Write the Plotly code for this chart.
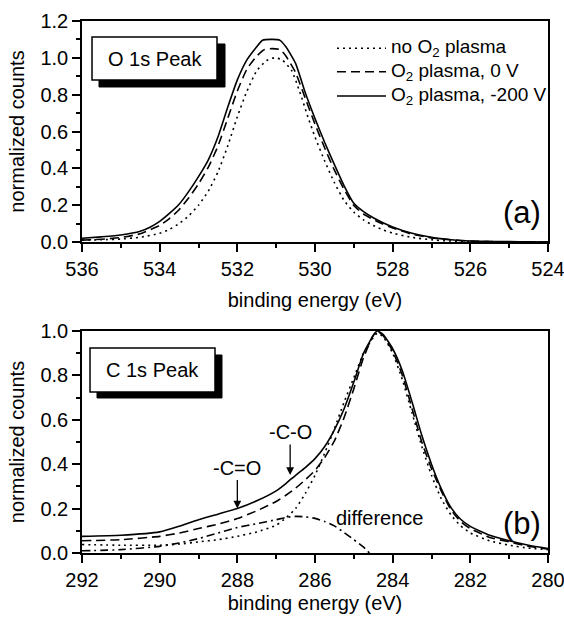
import plotly.graph_objects as go

# ---------------- data: O 1s panel (a) ----------------
o1s_e_solid = [536.0, 535.5, 535.0, 534.5, 534.25, 534.0, 533.75, 533.5, 533.25, 533.0, 532.75, 532.5,
               532.25, 532.0, 531.75, 531.5, 531.35, 531.1, 530.9, 530.75, 530.5, 530.25, 530.0, 529.75,
               529.5, 529.25, 529.0, 528.75, 528.5, 528.25, 528.0, 527.5, 527.0, 526.5, 526.0, 525.5,
               525.0, 524.5, 524.0]
o1s_plasma_200v = [0.020, 0.028, 0.038, 0.058, 0.080, 0.112, 0.155, 0.205, 0.275, 0.355, 0.445, 0.570,
                   0.730, 0.880, 0.990, 1.060, 1.095, 1.100, 1.095, 1.060, 0.970, 0.810, 0.670, 0.540,
                   0.420, 0.305, 0.210, 0.165, 0.132, 0.105, 0.082, 0.047, 0.025, 0.012, 0.005, 0.003,
                   0.002, 0.001, 0.000]

o1s_e_dash = [536.0, 535.5, 535.0, 534.5, 534.0, 533.75, 533.5, 533.25, 533.0, 532.75, 532.5, 532.25,
              532.0, 531.75, 531.5, 531.3, 531.1, 530.9, 530.75, 530.5, 530.25, 530.0, 529.75, 529.5,
              529.25, 529.0, 528.75, 528.5, 528.25, 528.0, 527.5, 527.0, 526.5, 526.0, 525.5, 525.0,
              524.5, 524.0]
o1s_plasma_0v = [0.010, 0.015, 0.024, 0.045, 0.090, 0.127, 0.175, 0.240, 0.315, 0.405, 0.520, 0.670,
                 0.820, 0.940, 1.010, 1.045, 1.050, 1.045, 1.010, 0.920, 0.780, 0.640, 0.510, 0.390,
                 0.285, 0.198, 0.152, 0.122, 0.097, 0.076, 0.042, 0.022, 0.012, 0.005, 0.002, 0.001,
                 0.000, 0.000]

o1s_e_dot = [536.0, 535.5, 535.0, 534.5, 534.0, 533.75, 533.5, 533.25, 533.0, 532.75, 532.5, 532.25,
             532.0, 531.75, 531.5, 531.25, 531.05, 530.85, 530.6, 530.4, 530.2, 530.0, 529.75, 529.5,
             529.25, 529.0, 528.75, 528.5, 528.25, 528.0, 527.5, 527.0, 526.5, 526.0, 525.0, 524.0]
o1s_no_plasma = [0.010, 0.012, 0.016, 0.026, 0.047, 0.068, 0.100, 0.142, 0.200, 0.275, 0.380, 0.520,
                 0.680, 0.820, 0.930, 0.985, 1.000, 0.990, 0.930, 0.820, 0.690, 0.570, 0.440, 0.322,
                 0.225, 0.162, 0.120, 0.090, 0.066, 0.048, 0.025, 0.012, 0.005, 0.002, 0.000, 0.000]

# ---------------- data: C 1s panel (b) ----------------
c1s_e = [292.0, 291.0, 290.0, 289.5, 289.0, 288.5, 288.0, 287.5, 287.0, 286.75, 286.5, 286.25,
         286.0, 285.75, 285.5, 285.25, 285.0, 284.75, 284.5, 284.4, 284.25, 284.0, 283.75, 283.5,
         283.25, 283.0, 282.75, 282.5, 282.25, 282.0, 281.5, 281.0, 280.5, 280.0]
c1s_plasma_200v = [0.075, 0.080, 0.095, 0.120, 0.150, 0.175, 0.200, 0.235, 0.280, 0.313, 0.350, 0.385,
                   0.425, 0.480, 0.555, 0.650, 0.770, 0.900, 0.980, 1.000, 0.985, 0.920, 0.820, 0.680,
                   0.530, 0.400, 0.290, 0.205, 0.152, 0.120, 0.080, 0.055, 0.035, 0.020]
c1s_plasma_0v = [0.055, 0.060, 0.075, 0.090, 0.110, 0.130, 0.155, 0.190, 0.232, 0.260, 0.292, 0.330,
                 0.372, 0.430, 0.505, 0.610, 0.740, 0.880, 0.980, 1.000, 0.980, 0.910, 0.800, 0.650,
                 0.500, 0.380, 0.280, 0.195, 0.142, 0.110, 0.070, 0.050, 0.030, 0.018]
c1s_no_plasma = [0.038, 0.035, 0.035, 0.040, 0.050, 0.060, 0.075, 0.095, 0.125, 0.158, 0.200, 0.268,
                 0.350, 0.450, 0.560, 0.680, 0.790, 0.900, 0.970, 0.990, 0.975, 0.900, 0.780, 0.630,
                 0.480, 0.350, 0.245, 0.172, 0.122, 0.090, 0.055, 0.035, 0.022, 0.015]

diff_e = [292.0, 291.0, 290.0, 289.5, 289.0, 288.5, 288.0, 287.5, 287.0, 286.75, 286.5, 286.25,
          286.0, 285.75, 285.5, 285.25, 285.0, 284.75, 284.6]
diff_values = [0.010, 0.015, 0.030, 0.045, 0.065, 0.090, 0.115, 0.132, 0.150, 0.160, 0.165, 0.163,
               0.156, 0.142, 0.122, 0.092, 0.060, 0.026, 0.000]

legend_labels = ["no O<sub>2</sub> plasma", "O<sub>2</sub> plasma, 0 V", "O<sub>2</sub> plasma, -200 V"]

# ---------------- styling ----------------
FONT = "Liberation Sans, Arial, Helvetica, sans-serif"
FS = 20
LW = 1.6
DOT = "2px,4px"
DASH = "9px,5px"
DASHDOT = "8px,4px,2px,4px"

fig = go.Figure()

def add(x, y, dash, xa, ya):
    fig.add_trace(go.Scatter(x=x, y=y, mode="lines", xaxis=xa, yaxis=ya, showlegend=False,
                             line=dict(color="black", width=LW, dash=dash, shape="spline", smoothing=0.5),
                             hoverinfo="skip"))

add(o1s_e_dot, o1s_no_plasma, DOT, "x", "y")
add(o1s_e_dash, o1s_plasma_0v, DASH, "x", "y")
add(o1s_e_solid, o1s_plasma_200v, "solid", "x", "y")

add(c1s_e, c1s_no_plasma, DOT, "x2", "y2")
add(c1s_e, c1s_plasma_0v, DASH, "x2", "y2")
add(c1s_e, c1s_plasma_200v, "solid", "x2", "y2")
add(diff_e, diff_values, DASHDOT, "x2", "y2")

TOP_DOM = [0.5846, 1.0]
BOT_DOM = [0.0, 0.4173]

tickfont = dict(family=FONT, size=FS, color="black")
titlefont = dict(family=FONT, size=FS, color="black")

def xax(rng, anchor, standoff):
    return dict(range=rng, anchor=anchor, domain=[0, 1], tick0=280, dtick=2,
                ticks="outside", ticklen=8, tickwidth=1.5, tickcolor="black",
                minor=dict(dtick=1, ticks="outside", ticklen=4, tickwidth=1.5, tickcolor="black"),
                showline=True, linewidth=1.5, linecolor="black", mirror=True,
                showgrid=False, zeroline=False, tickfont=tickfont, ticklabeloverflow="allow",
                automargin=False,
                title=dict(text="binding energy (eV)", font=titlefont, standoff=standoff))

def xax_top(rng, anchor, over):
    return dict(range=rng, anchor=anchor, overlaying=over, side="top", tick0=280, dtick=2,
                ticks="inside", ticklen=8, tickwidth=1.5, tickcolor="black",
                minor=dict(dtick=1, ticks="inside", ticklen=4, tickwidth=1.5, tickcolor="black"),
                showticklabels=False, showline=False, showgrid=False, zeroline=False,
                automargin=False)

def yax(rng, dom, anchor):
    return dict(range=rng, domain=dom, anchor=anchor, dtick=0.2, tick0=0, tickformat=".1f",
                ticks="outside", ticklen=8, tickwidth=1.5, tickcolor="black",
                minor=dict(dtick=0.1, ticks="outside", ticklen=4, tickwidth=1.5, tickcolor="black"),
                showline=True, linewidth=1.5, linecolor="black", mirror=True,
                showgrid=False, zeroline=False, tickfont=tickfont, ticklabeloverflow="allow",
                automargin=False,
                title=dict(text="normalized counts", font=titlefont, standoff=10))

def yax_right(rng, anchor, over):
    return dict(range=rng, anchor=anchor, overlaying=over, side="right", dtick=0.2, tick0=0,
                ticks="inside", ticklen=8, tickwidth=1.5, tickcolor="black",
                minor=dict(dtick=0.1, ticks="inside", ticklen=4, tickwidth=1.5, tickcolor="black"),
                showticklabels=False, showline=False, showgrid=False, zeroline=False,
                automargin=False)

fig.update_layout(
    width=564, height=623,
    margin=dict(l=82, r=16, t=21, b=70, autoexpand=False),
    paper_bgcolor="white", plot_bgcolor="white",
    font=dict(family=FONT, size=FS, color="black"),
    showlegend=False,
    xaxis=xax([536, 524], "y", 14),
    yaxis=yax([0, 1.2], TOP_DOM, "x"),
    xaxis2=xax([292, 280], "y2", 6),
    yaxis2=yax([0, 1.0], BOT_DOM, "x2"),
    xaxis3=xax_top([536, 524], "y", "x"),
    yaxis3=yax_right([0, 1.2], "x", "y"),
    xaxis4=xax_top([292, 280], "y2", "x2"),
    yaxis4=yax_right([0, 1.0], "x2", "y2"),
)

shapes = []
annotations = []

def peak_box(xd, yd, xs, ys, text, xr, yr):
    shapes.append(dict(type="rect", xref=xr, yref=yr, x0=xs[0], x1=xs[1], y0=ys[0], y1=ys[1],
                       fillcolor="black", line=dict(color="black", width=1), layer="above"))
    shapes.append(dict(type="rect", xref=xr, yref=yr, x0=xd[0], x1=xd[1], y0=yd[0], y1=yd[1],
                       fillcolor="white", line=dict(color="black", width=1.5), layer="above"))
    annotations.append(dict(xref=xr, yref=yr, x=(xd[0] + xd[1]) / 2, y=(yd[0] + yd[1]) / 2,
                            text=text, showarrow=False, font=dict(family=FONT, size=FS, color="black"),
                            xanchor="center", yanchor="middle"))

peak_box([0.0215, 0.2897], [0.733, 0.9276], [0.0365, 0.3069], [0.7014, 0.896],
         "O 1s Peak", "x domain", "y domain")
peak_box([0.0172, 0.2854], [0.7252, 0.9234], [0.0322, 0.3004], [0.6982, 0.8919],
         "C 1s Peak", "x2 domain", "y2 domain")

# manual legend (panel a)
leg_rows = [0.8765, 0.7706, 0.6606]
leg_dash = [DOT, DASH, "solid"]
for lab, yy, dsh in zip(legend_labels, leg_rows, leg_dash):
    shapes.append(dict(type="line", xref="x domain", yref="y domain", x0=0.5472, x1=0.6524,
                       y0=yy, y1=yy, line=dict(color="black", width=LW, dash=dsh)))
    annotations.append(dict(xref="x domain", yref="y domain", x=0.6588, y=yy, text=lab,
                            showarrow=False, xanchor="left", yanchor="middle",
                            font=dict(family=FONT, size=19, color="black")))

# panel labels
annotations.append(dict(xref="x domain", yref="y domain", x=0.945, y=0.135, text="(a)",
                        showarrow=False, xanchor="center", yanchor="middle",
                        font=dict(family=FONT, size=31, color="black")))
annotations.append(dict(xref="x2 domain", yref="y2 domain", x=0.945, y=0.135, text="(b)",
                        showarrow=False, xanchor="center", yanchor="middle",
                        font=dict(family=FONT, size=31, color="black")))

# panel b annotations
annotations.append(dict(xref="x2", yref="y2", x=284.34, y=0.156, text="difference", showarrow=False,
                        xanchor="center", yanchor="middle", font=dict(family=FONT, size=FS, color="black")))
annotations.append(dict(xref="x2", yref="y2", x=286.64, y=0.351, text="-C-O", showarrow=True,
                        ax=0, ay=-43, arrowhead=2, arrowsize=1.2, arrowwidth=1.3, arrowcolor="black",
                        font=dict(family=FONT, size=FS, color="black")))
annotations.append(dict(xref="x2", yref="y2", x=288.0, y=0.20, text="-C=O", showarrow=True,
                        ax=0, ay=-41, arrowhead=2, arrowsize=1.2, arrowwidth=1.3, arrowcolor="black",
                        font=dict(family=FONT, size=FS, color="black")))

fig.update_layout(shapes=shapes, annotations=annotations)

fig.write_html("out.html")
